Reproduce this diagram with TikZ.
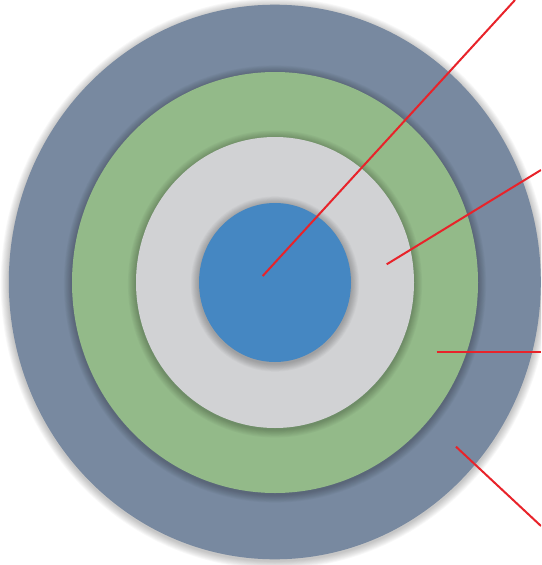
\documentclass[tikz,border=0pt]{standalone}
\usetikzlibrary{shapes.geometric}
\definecolor{outerc}{HTML}{7889A0}
\definecolor{greenc}{HTML}{93BA89}
\definecolor{grayc}{HTML}{D1D2D4}
\definecolor{bluec}{HTML}{4587C2}
\definecolor{redc}{HTML}{E8232A}
\newcommand{\softshade}[4]{%
  \foreach \k in {1,...,9} {
    \fill[black, opacity=0.028] (#1,#2+1.5) ellipse ({#3+\k*0.9} and {#4+\k*0.9});
  }%
}
\begin{document}
\begin{tikzpicture}[x=1pt,y=-1pt,
  ring/.style={ellipse, draw=none, inner sep=0pt},
  pointer/.style={draw=redc, line width=2pt}]
\useasboundingbox (0,0) rectangle (541,565);
\clip (0,0) rectangle (541,565);
\softshade{274.8}{282}{266}{277.3}
\node[ring, fill=outerc, minimum width=532pt, minimum height=554.6pt] (outer) at (274.8,282) {};
\softshade{275}{282.5}{203}{210.5}
\node[ring, fill=greenc, minimum width=406pt, minimum height=421pt] (green) at (275,282.5) {};
\softshade{275}{282.5}{139}{145.5}
\node[ring, fill=grayc, minimum width=278pt, minimum height=291pt] (gray) at (275,282.5) {};
\softshade{275}{282.5}{76}{79.5}
\node[ring, fill=bluec, minimum width=152pt, minimum height=159pt] (blue) at (275,282.5) {};
\coordinate (p1a) at (262.7,276);
\coordinate (p1b) at (515,0);
\coordinate (p2a) at (386.7,264.3);
\coordinate (p2b) at (541,170);
\coordinate (p3a) at (436.7,352);
\coordinate (p3b) at (541,352);
\coordinate (p4a) at (456,446.7);
\coordinate (p4b) at (541,526);
\draw[pointer] (p1a) -- (p1b);
\draw[pointer] (p2a) -- (p2b);
\draw[pointer] (p3a) -- (p3b);
\draw[pointer] (p4a) -- (p4b);
\end{tikzpicture}
\end{document}
